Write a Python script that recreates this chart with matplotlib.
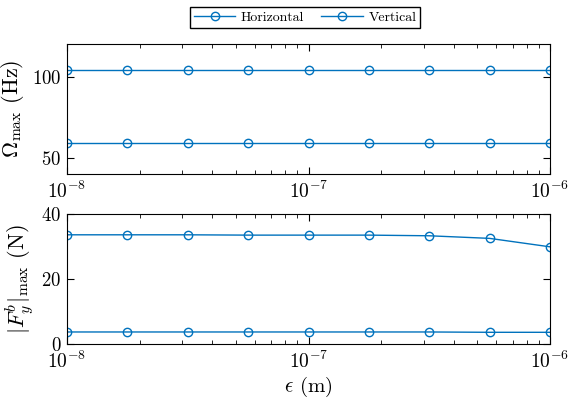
import matplotlib
matplotlib.use('Agg')
import matplotlib.pyplot as plt
import numpy as np

# sweep of epsilon values
eps = [1e-8, 1.78e-8, 3.16e-8, 5.62e-8, 1e-7, 1.78e-7, 3.16e-7, 5.62e-7, 1e-6]

# maximum frequency for each direction
omega_horizontal = [104, 104, 104, 104, 104, 104, 104, 104, 104]
omega_vertical = [59.2, 59.2, 59.2, 59.2, 59.2, 59.2, 59.2, 59.2, 59.2]

# maximum bearing force for each direction
force_horizontal = [33.6, 33.6, 33.6, 33.5, 33.5, 33.5, 33.3, 32.5, 29.9]
force_vertical = [3.7, 3.7, 3.7, 3.7, 3.7, 3.7, 3.7, 3.6, 3.6]

LINE_COLOR = '#0072BD'

plt.rcParams['font.family'] = 'cmr10'
plt.rcParams['mathtext.fontset'] = 'cm'
plt.rcParams['axes.formatter.use_mathtext'] = True
plt.rcParams['font.size'] = 13

fig = plt.figure(figsize=(5.69, 4.01), dpi=100)
ax_top = fig.add_axes([67/569, 1 - 174/401, 483/569, 130/401])
ax_bot = fig.add_axes([67/569, 1 - 344/401, 483/569, 130/401])

style = dict(color=LINE_COLOR, marker='o', markerfacecolor='none',
             markersize=6, markeredgewidth=1.0, linewidth=1.0)

h1, = ax_top.plot(eps, omega_horizontal, label='Horizontal', **style)
h2, = ax_top.plot(eps, omega_vertical, label='Vertical', **style)
ax_bot.plot(eps, force_horizontal, **style)
ax_bot.plot(eps, force_vertical, **style)

for ax in (ax_top, ax_bot):
    ax.set_xscale('log')
    ax.set_xlim(1e-8, 1e-6)
    ax.tick_params(which='both', direction='in', top=True, right=True)
    ax.tick_params(which='major', length=5)
    ax.tick_params(which='minor', length=3)
    ax.tick_params(axis='y', labelsize=13.5, pad=4)
    ax.tick_params(axis='x', labelsize=14, pad=5)
    for s in ax.spines.values():
        s.set_linewidth(0.8)

ax_top.set_ylim(40, 120)
ax_top.set_yticks([50, 100])
ax_bot.set_ylim(0, 40)
ax_bot.set_yticks([0, 20, 40])

ax_top.set_ylabel(r'$\Omega_{\mathrm{max}}$ (Hz)', fontsize=16, labelpad=4)
ax_bot.set_ylabel(r'$|F_y^b|_{\mathrm{max}}$ (N)', fontsize=16, labelpad=4)
ax_bot.set_xlabel(r'$\epsilon$ (m)', fontsize=15, labelpad=2)

fig.legend(handles=[h1, h2], loc='upper center', ncol=2,
           bbox_to_anchor=(305/569, 1 - 7/401), borderaxespad=0,
           fontsize=10, frameon=True, fancybox=False, edgecolor='k',
           framealpha=1, borderpad=0.3, handlelength=3.0,
           columnspacing=1.2, handletextpad=0.4)

fig.savefig('out.png', dpi=100)
